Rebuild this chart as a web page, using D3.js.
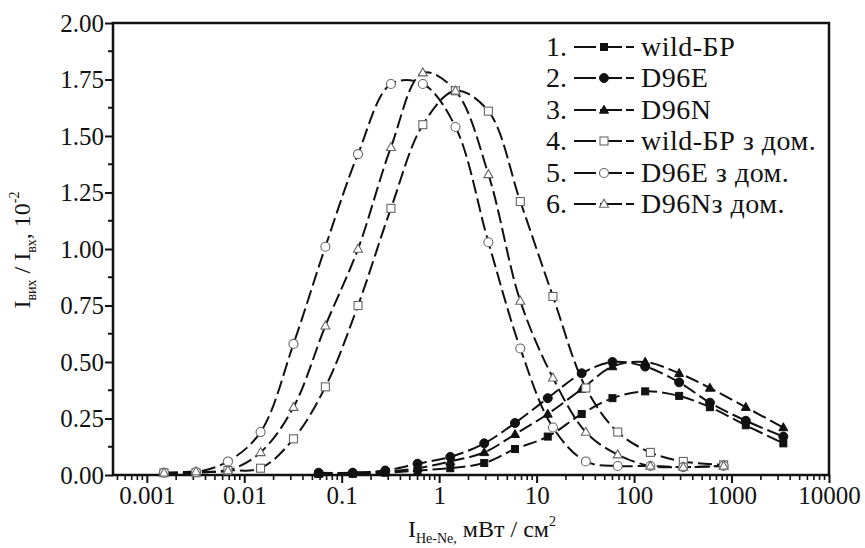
<!DOCTYPE html>
<html><head><meta charset="utf-8">
<script src="https://cdn.jsdelivr.net/npm/d3@7"></script>
<style>
html,body{margin:0;padding:0;background:#fff;}
svg text{font-family:"Liberation Serif","Times New Roman",serif;fill:#111;}
</style></head>
<body>
<svg id="chart" width="865" height="548"></svg>
<script>
// ---- data ----
const xOpen = [0.0015, 0.0032, 0.0068, 0.0147, 0.032, 0.068, 0.147, 0.32, 0.68, 1.47, 3.2, 6.8, 14.7, 32, 68, 147, 320, 830];
const wildDom = [0.01, 0.01, 0.02, 0.03, 0.16, 0.39, 0.75, 1.18, 1.55, 1.70, 1.61, 1.21, 0.79, 0.385, 0.19, 0.10, 0.06, 0.045];
const d96eDom = [0.01, 0.013, 0.06, 0.19, 0.58, 1.01, 1.42, 1.73, 1.73, 1.54, 1.03, 0.56, 0.21, 0.06, 0.04, 0.04, 0.035, 0.04];
const d96nDom = [0.01, 0.015, 0.02, 0.10, 0.30, 0.66, 1.00, 1.45, 1.78, 1.70, 1.33, 0.77, 0.43, 0.19, 0.09, 0.04, 0.035, 0.04];

const xFilled = [0.058, 0.13, 0.28, 0.6, 1.3, 2.9, 6, 13, 29, 60, 130, 290, 600, 1400, 3400];
const wild = [0.005, 0.005, 0.01, 0.02, 0.03, 0.053, 0.115, 0.17, 0.27, 0.34, 0.37, 0.35, 0.30, 0.22, 0.14];
const d96e = [0.01, 0.01, 0.02, 0.05, 0.08, 0.14, 0.23, 0.34, 0.45, 0.50, 0.48, 0.41, 0.32, 0.24, 0.17];
const d96n = [0.005, 0.01, 0.015, 0.03, 0.06, 0.10, 0.18, 0.27, 0.38, 0.48, 0.50, 0.45, 0.385, 0.30, 0.21];

const xTicks = [0.001, 0.01, 0.1, 1, 10, 100, 1000, 10000];
const xTickLabels = ["0.001", "0.01", "0.1", "1", "10", "100", "1000", "10000"];
const yTicks = [0, 0.25, 0.5, 0.75, 1, 1.25, 1.5, 1.75, 2];
const legendNames = ["wild-БР", "D96E", "D96N", "wild-БР з дом.", "D96E з дом.", "D96Nз дом."];

const series = [
  {name: legendNames[0], xs: xFilled, ys: wild, shape: "square", filled: true},
  {name: legendNames[1], xs: xFilled, ys: d96e, shape: "circle", filled: true},
  {name: legendNames[2], xs: xFilled, ys: d96n, shape: "triangle", filled: true},
  {name: legendNames[3], xs: xOpen, ys: wildDom, shape: "square", filled: false},
  {name: legendNames[4], xs: xOpen, ys: d96eDom, shape: "circle", filled: false},
  {name: legendNames[5], xs: xOpen, ys: d96nDom, shape: "triangle", filled: false}
];

// ---- layout ----
const L = 113, R = 829, T = 23, B = 475;
const svg = d3.select("#chart");
const x = d3.scaleLog().domain([0.00045, 10000]).range([L, R]);
const y = d3.scaleLinear().domain([0, 2]).range([B, T]);

// axes
const fs = 25;
const yAxis = d3.axisLeft(y).tickValues(yTicks).tickFormat(d3.format(".2f")).tickSize(8).tickPadding(1);
const gy = svg.append("g").attr("transform", `translate(${L},0)`).call(yAxis);
gy.selectAll("text").style("font-size", fs + "px");
const yMinor = d3.range(0.125, 2, 0.25);
svg.append("g").selectAll("line").data(yMinor).join("line")
  .attr("x1", L - 5).attr("x2", L).attr("y1", d => y(d)).attr("y2", d => y(d))
  .attr("stroke", "#111").attr("stroke-width", 2);

const xAxis = d3.axisBottom(x).tickValues(xTicks).tickFormat((d, i) => xTickLabels[i]).tickSize(8).tickPadding(3);
const gx = svg.append("g").attr("transform", `translate(0,${B})`).call(xAxis);
gx.selectAll("text").style("font-size", fs + "px");
const xMinor = [];
for (let e = -4; e <= 3; e++) for (let m = 2; m <= 9; m++) { const v = m * Math.pow(10, e); if (v >= 0.00045 && v <= 10000) xMinor.push(v); }
svg.append("g").selectAll("line").data(xMinor).join("line")
  .attr("x1", d => x(d)).attr("x2", d => x(d)).attr("y1", B).attr("y2", B + 5)
  .attr("stroke", "#111").attr("stroke-width", 1.6);
svg.selectAll(".domain").remove();
svg.selectAll(".tick line").attr("stroke", "#111").attr("stroke-width", 2);

// frame
svg.append("rect").attr("x", L).attr("y", T).attr("width", R - L).attr("height", B - T)
  .attr("fill", "none").attr("stroke", "#111").attr("stroke-width", 2.5);

// lines
const line = d3.line().x(d => x(d[0])).y(d => y(d[1])).curve(d3.curveCatmullRom.alpha(0.5));
const plot = svg.append("g");
series.forEach(s => {
  const pts = s.xs.map((v, i) => [v, s.ys[i]]);
  plot.append("path").datum(pts).attr("d", line)
    .attr("fill", "none").attr("stroke", "#111").attr("stroke-width", 2)
    .attr("stroke-dasharray", "14,5");
});

// markers
function marker(g, shape, filled, cx, cy) {
  const fill = filled ? "#111" : "#fff";
  const stroke = filled ? "#111" : "#666";
  const sw = filled ? 1 : 1.1;
  if (shape === "square") {
    const a = filled ? 7 : 8;
    g.append("rect").attr("x", cx - a / 2).attr("y", cy - a / 2).attr("width", a).attr("height", a)
      .attr("fill", fill).attr("stroke", stroke).attr("stroke-width", sw);
  } else if (shape === "circle") {
    g.append("circle").attr("cx", cx).attr("cy", cy).attr("r", 4.5)
      .attr("fill", fill).attr("stroke", stroke).attr("stroke-width", sw);
  } else {
    const h = 8, w = 9;
    g.append("path").attr("d", `M${cx},${cy - h * 0.6}L${cx + w / 2},${cy + h * 0.4}L${cx - w / 2},${cy + h * 0.4}Z`)
      .attr("fill", fill).attr("stroke", stroke).attr("stroke-width", sw);
  }
}
series.forEach(s => {
  const g = plot.append("g");
  s.xs.forEach((v, i) => marker(g, s.shape, s.filled, x(v), y(s.ys[i])));
});

// legend
const lg = svg.append("g");
const rowY = [47, 78, 110, 141, 173, 204];
series.forEach((s, i) => {
  const yy = rowY[i];
  lg.append("text").attr("x", 567).attr("y", yy + 9).attr("text-anchor", "end")
    .style("font-size", "28px").text((i + 1) + ".");
  lg.append("line").attr("x1", 574).attr("x2", 634).attr("y1", yy).attr("y2", yy)
    .attr("stroke", "#111").attr("stroke-width", 2).attr("stroke-dasharray", "22,4");
  marker(lg, s.shape, s.filled, 604, yy);
  lg.append("text").attr("x", 641).attr("y", yy + 9).style("font-size", "28px")
    .style("letter-spacing", "0.5px").text(s.name);
});

// axis titles
const xt = svg.append("text").attr("x", 482).attr("y", 537).attr("text-anchor", "middle").style("font-size", "24px");
xt.append("tspan").text("I");
xt.append("tspan").attr("dy", 6).style("font-size", "14px").text("He-Ne,");
xt.append("tspan").attr("dy", -6).text(" мВт / см");
xt.append("tspan").attr("dy", -11).style("font-size", "14px").text("2");

const yt = svg.append("text").attr("transform", "translate(30,250) rotate(-90)").attr("text-anchor", "middle").style("font-size", "24px");
yt.append("tspan").text("I");
yt.append("tspan").attr("dy", 6).style("font-size", "14px").text("вих");
yt.append("tspan").attr("dy", -6).text(" / I");
yt.append("tspan").attr("dy", 6).style("font-size", "14px").text("вх");
yt.append("tspan").attr("dy", -6).text(", 10");
yt.append("tspan").attr("dy", -11).style("font-size", "14px").text("-2");
</script>
</body></html>
